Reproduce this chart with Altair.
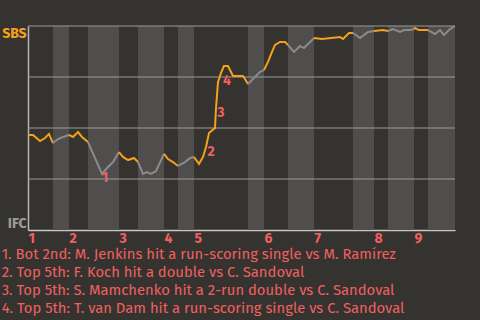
import json
import altair as alt
import pandas as pd

# ---- data ----
innings = ["1", "2", "3", "4", "5", "6", "7", "8", "9"]
# half-inning boundaries in "play" units (top 1st, bot 1st, top 2nd, ...)
half_bounds = [0, 5, 8.2, 12, 18.2, 22, 27.2, 30, 33.2, 44, 47.2, 52, 57.2, 65,
               69.2, 72, 77.2, 80, 85.4]
play_x = [0, 1, 2.4, 3.4, 4.2, 5, 6, 7, 8.2, 9, 10, 10.8, 12, 14.8, 15.8, 17,
          18.2, 19, 20, 21.2, 22, 23, 23.8, 24.6, 25.6, 27.2, 28, 29, 30, 31.4,
          32.4, 33.2, 34.2, 35, 35.6, 36.2, 37.4, 37.6, 37.8, 38, 38.6, 39.2, 40,
          41, 43, 43.4, 44, 45.4, 46.4, 47.2, 48, 48.8, 49.4, 50.4, 51.4, 52,
          53.2, 54.4, 55.2, 57.2, 58.8, 62.4, 63, 64.2, 65, 66.4, 68, 69.2, 71,
          72, 73, 74.4, 75.2, 76.4, 77.2, 77.4, 78.2, 80, 81.4, 82.4, 83.2, 84.4,
          85.4]
sbs_wp = [0.466, 0.466, 0.436, 0.451, 0.471, 0.426, 0.446, 0.456, 0.466, 0.456,
          0.480, 0.456, 0.431, 0.275, 0.304, 0.333, 0.382, 0.358, 0.343, 0.353,
          0.333, 0.275, 0.284, 0.275, 0.289, 0.373, 0.348, 0.333, 0.314, 0.333,
          0.353, 0.358, 0.324, 0.358, 0.407, 0.475, 0.500, 0.598, 0.662, 0.725,
          0.770, 0.804, 0.804, 0.755, 0.755, 0.740, 0.716, 0.750, 0.775, 0.784,
          0.824, 0.873, 0.907, 0.922, 0.922, 0.907, 0.873, 0.902, 0.892, 0.941,
          0.936, 0.946, 0.936, 0.966, 0.966, 0.941, 0.971, 0.975, 0.980, 0.975,
          0.985, 0.971, 0.980, 0.980, 0.985, 0.990, 0.980, 0.980, 0.961, 0.980,
          0.956, 0.985, 1.000]
grid_values = [0.25, 0.5, 0.75, 1.0]
note_ids = ["1", "2", "3", "4"]
note_x = [15.4, 36.6, 38.6, 39.8]
note_wp = [0.255, 0.382, 0.574, 0.730]
notes = [
    "1. Bot 2nd: M. Jenkins hit a run-scoring single vs M. Ramírez",
    "2. Top 5th: F. Koch hit a double vs C. Sandoval",
    "3. Top 5th: S. Mamchenko hit a 2-run double vs C. Sandoval",
    "4. Top 5th: T. van Dam hit a run-scoring single vs C. Sandoval",
]

ORANGE = "#f6a11c"
GRAY = "#8b8b8b"
PINK = "#f0605f"
BG = "#35332f"
BAND = "#4f4e4c"
FONT = "Fira Sans, Lato, Noto Sans, sans-serif"

# ---- build tables ----
seg_rows = []
for h in range(len(half_bounds) - 1):
    lo, hi = half_bounds[h], half_bounds[h + 1]
    team = "SBS" if h % 2 == 0 else "IFC"
    for x, v in zip(play_x, sbs_wp):
        if lo - 1e-9 <= x <= hi + 1e-9:
            seg_rows.append({"x": x, "wp": v, "seg": h, "team": team})
seg_df = pd.DataFrame(seg_rows)

band_df = pd.DataFrame([
    {"x": half_bounds[h], "x2": half_bounds[h + 1]}
    for h in range(1, len(half_bounds) - 1, 2)
])
grid_df = pd.DataFrame({"wp": grid_values})
note_df = pd.DataFrame({"id": note_ids, "x": note_x, "wp": note_wp})

inning_starts = half_bounds[0:len(half_bounds) - 1:2]

xscale = alt.Scale(domain=[half_bounds[0], half_bounds[-1]], nice=False, zero=False)
yscale = alt.Scale(domain=[0, 1], nice=False)

x_axis = alt.Axis(
    values=inning_starts,
    labelExpr="indexof(" + json.dumps(inning_starts) + ", datum.value) + 1",
    labelAlign="left", labelBaseline="top", labelPadding=1,
    labelFont=FONT, labelFontWeight="bold", labelFontSize=14, labelColor=PINK,
    labelFlush=False, labelOverlap=False,
    ticks=False, grid=False, domainColor="#c6c6c6", domainWidth=1.5, title=None,
)
y_axis = alt.Axis(
    values=[0, 1],
    labelExpr="datum.value == 1 ? 'SBS' : 'IFC'",
    labelColor={"condition": {"test": "datum.value == 1", "value": ORANGE}, "value": "#9c9c9c"},
    labelFlush=True, labelFont=FONT, labelFontWeight="bold", labelFontSize=14,
    labelPadding=2, ticks=False, grid=False, domainColor="#b5b5b5", domainWidth=1.5,
    title=None,
)

bands = alt.Chart(band_df).mark_rect(color=BAND).encode(
    x=alt.X("x:Q", scale=xscale, axis=x_axis),
    x2="x2:Q",
    y=alt.value(0),
    y2=alt.value(204),
)
grid = alt.Chart(grid_df).mark_rule(color="#9a9a9a", strokeWidth=1.2).encode(
    y=alt.Y("wp:Q", scale=yscale, axis=y_axis),
)
line = alt.Chart(seg_df).mark_line(strokeWidth=2).encode(
    x=alt.X("x:Q", scale=xscale),
    y=alt.Y("wp:Q", scale=yscale),
    detail="seg:N",
    color=alt.Color("team:N", scale=alt.Scale(domain=["SBS", "IFC"], range=[ORANGE, GRAY]),
                    legend=None),
)
labels = alt.Chart(note_df).mark_text(
    font=FONT, fontWeight="bold", fontSize=14, color=PINK, align="center", baseline="middle"
).encode(
    x=alt.X("x:Q", scale=xscale),
    y=alt.Y("wp:Q", scale=yscale),
    text="id:N",
)

chart = alt.layer(bands, grid, line, labels).properties(
    width=427,
    height=204,
    background=BG,
    padding={"left": 28, "top": 26, "right": 25, "bottom": 90},
    autosize=alt.AutoSizeParams(type="none"),
    title=alt.TitleParams(
        text=notes, orient="bottom", anchor="start", font=FONT, fontSize=14.8,
        fontWeight="normal", color=PINK, lineHeight=18, offset=2,
    ),
).configure_view(stroke=None)

chart.save("out.html", embed_options={"renderer": "svg", "actions": False})
